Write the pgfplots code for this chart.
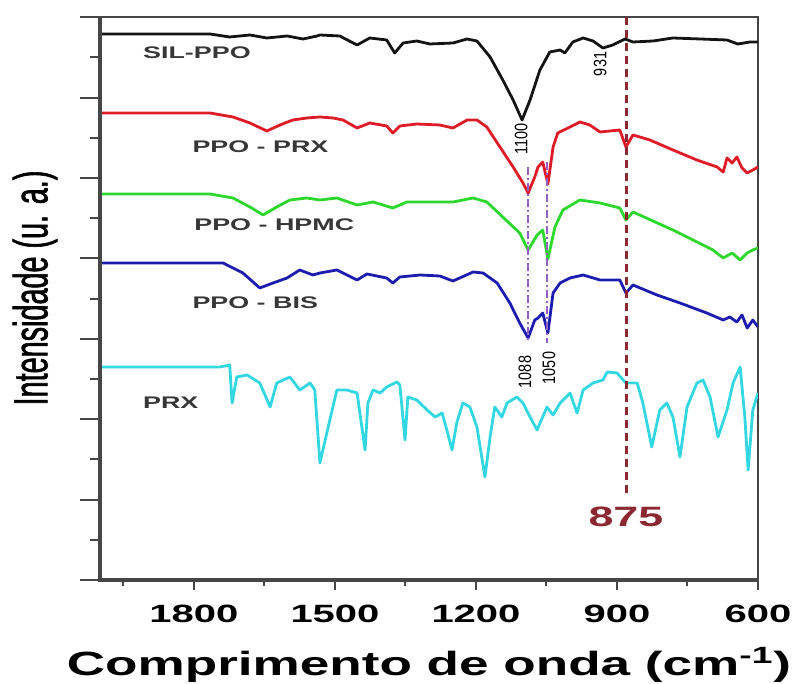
\documentclass[border=0pt]{standalone}
\usepackage{pgfplots}
\pgfplotsset{compat=1.18}
\usepackage{fontspec}
\setmainfont{Liberation Sans}
\newfontfamily\wide[FakeStretch=1.6]{Liberation Sans}
\newfontfamily\wideT[FakeStretch=1.58]{Liberation Sans}
\newfontfamily\narrowY[FakeStretch=0.6,FakeBold=1.2]{Liberation Sans}
\newfontfamily\narrowN[FakeStretch=0.8]{Liberation Sans}
\definecolor{cBlack}{RGB}{20,20,20}
\definecolor{cRed}{RGB}{222,28,40}
\definecolor{cGreen}{RGB}{45,215,45}
\definecolor{cBlue}{RGB}{28,28,175}
\definecolor{cCyan}{RGB}{50,215,225}
\definecolor{cText}{RGB}{55,55,55}
\definecolor{cDash}{RGB}{140,40,50}
\definecolor{cPurple}{RGB}{150,95,195}
\definecolor{cAxis}{RGB}{70,70,70}
\begin{document}
\begin{tikzpicture}
\path[use as bounding box] (-50pt,-52pt) rectangle (348.5pt,290pt);
\begin{axis}[
  at={(0pt,0pt)}, anchor=south west,
  scale only axis, width=329pt, height=281.5pt,
  xmin=600, xmax=2000, x dir=reverse,
  ymin=0, ymax=563,
  xtick={600,900,1200,1500,1800},
  xticklabels={600,900,1200,1500,1800},
  minor xtick={750,1050,1350,1650,1950},
  ytick={0,80.4,160.8,241.2,321.6,402,482.4,562.8},
  minor ytick={40.2,120.6,201,281.4,361.8,442.2,522.6},
  yticklabels={},
  tick align=outside,
  xtick pos=bottom, ytick pos=left,
  xtick style={/pgfplots/major tick length=5pt,/pgfplots/minor tick length=3pt,line width=1pt,cAxis},
  ytick style={/pgfplots/major tick length=10pt,/pgfplots/minor tick length=5pt,line width=1pt,cAxis},
  /pgf/number format/assume math mode=true,
  xticklabel style={font=\wide\bfseries\fontsize{12.5}{14}\selectfont, yshift=-4.5pt},
  axis line style={line width=1.3pt, cAxis},
  clip=true,
  every axis plot/.append style={line width=1.4pt, line join=round},
]
% SIL-PPO
\addplot[cBlack] coordinates {
(2000,546)(1766,546)(1724,543)(1681,545)(1645,542)(1602,544)(1568,541)(1538,544)(1532,545)
(1490,544)(1453,535)(1426,542)(1390,540)(1373,527)(1355,537)(1326,539)(1298,536)(1249,537)
(1219,541)(1198,539)(1170,523)(1143,500)(1121,480)(1102,460)(1085,480)(1064,510)(1043,528)
(1021,530)(1011,527)(994,538)(972,542)(951,539)(930,532)(909,535)(883,541)(866,538)(823,539)
(781,542)(723,541)(666,540)(643,536)(617,538)(600,538)};
% PPO - PRX
\addplot[cRed] coordinates {
(2000,467)(1766,467)(1717,463)(1681,457)(1645,449)(1617,455)(1590,460)(1560,462)(1532,463)
(1504,462)(1483,460)(1453,452)(1426,457)(1390,454)(1377,447)(1362,454)(1326,456)(1277,455)
(1249,452)(1219,460)(1198,460)(1177,453)(1149,433)(1121,413)(1100,397)(1089,387)(1075,403)
(1068,413)(1058,418)(1047,396)(1036,433)(1026,447)(1000,453)(979,458)(958,455)(936,448)
(894,450)(881,433)(866,445)(830,440)(781,430)(730,420)(687,413)(674,408)(666,422)(655,417)
(645,423)(634,412)(623,407)(611,410)(600,413)};
% PPO - HPMC
\addplot[cGreen] coordinates {
(2000,386)(1766,386)(1717,382)(1681,373)(1653,365)(1624,373)(1596,380)(1560,382)(1532,380)
(1496,382)(1453,375)(1419,378)(1377,372)(1347,378)(1298,378)(1249,378)(1206,382)(1177,378)
(1143,363)(1107,347)(1089,330)(1070,345)(1058,350)(1047,321)(1032,353)(1015,370)(979,380)
(936,377)(894,372)(881,360)(866,368)(781,350)(696,330)(674,322)(655,327)(638,320)(623,327)
(611,330)(600,332)};
% PPO - BIS
\addplot[cBlue] coordinates {
(2000,317)(1738,317)(1696,307)(1660,292)(1632,297)(1602,302)(1575,310)(1547,305)(1532,307)
(1496,310)(1453,300)(1432,306)(1390,302)(1377,297)(1362,303)(1319,305)(1277,304)(1249,299)
(1206,308)(1185,307)(1155,297)(1128,277)(1107,257)(1089,242)(1075,260)(1068,262)(1058,267)
(1047,247)(1036,287)(1021,297)(1000,302)(972,305)(936,300)(894,300)(881,287)(866,295)
(815,285)(766,277)(709,267)(674,260)(660,263)(645,258)(634,265)(623,252)(611,260)(600,253)};
% PRX
\addplot[cCyan] coordinates {
(2000,213)(1745,213)(1724,215)(1719,177)(1709,203)(1687,205)(1660,197)(1638,173)(1624,197)
(1596,203)(1575,190)(1553,197)(1543,190)(1532,117)(1511,160)(1496,190)(1475,190)(1453,187)
(1436,130)(1430,177)(1419,190)(1404,187)(1390,193)(1368,198)(1362,195)(1351,140)(1345,183)
(1326,180)(1304,170)(1287,163)(1272,167)(1262,150)(1251,130)(1241,157)(1228,177)(1213,173)
(1198,153)(1181,103)(1170,143)(1160,173)(1145,163)(1134,177)(1113,183)(1100,177)(1085,163)
(1070,150)(1049,173)(1036,165)(1021,177)(1000,187)(985,167)(972,190)(951,197)(930,200)
(921,208)(900,207)(881,197)(857,197)(845,177)(826,133)(809,170)(794,177)(781,163)(766,123)
(751,173)(730,197)(717,200)(702,183)(685,143)(666,170)(653,197)(638,213)(628,163)(621,110)
(611,170)(600,187)};
% reference lines
\draw[cDash, line width=1.4pt, dash pattern=on 4pt off 2.5pt] (axis cs:879,563) -- (axis cs:879,83);
\draw[cPurple, line width=1pt, dash pattern=on 4pt off 1.5pt on 1pt off 1.5pt] (axis cs:1090,413) -- (axis cs:1090,237);
\draw[cPurple, line width=1pt, dash pattern=on 4pt off 1.5pt on 1pt off 1.5pt] (axis cs:1049,418) -- (axis cs:1049,237);
% labels
\node[anchor=west, text=cText, font=\wide\bfseries\fontsize{8.4}{10}\selectfont, inner sep=0pt] at (axis cs:1909,527) {SIL-PPO};
\node[anchor=west, text=cText, font=\wide\bfseries\fontsize{8.4}{10}\selectfont, inner sep=0pt] at (axis cs:1804,433) {PPO - PRX};
\node[anchor=west, text=cText, font=\wide\bfseries\fontsize{8.4}{10}\selectfont, inner sep=0pt] at (axis cs:1800,355) {PPO - HPMC};
\node[anchor=west, text=cText, font=\wide\bfseries\fontsize{8.4}{10}\selectfont, inner sep=0pt] at (axis cs:1804,277) {PPO - BIS};
\node[anchor=west, text=cText, font=\wide\bfseries\fontsize{8.4}{10}\selectfont, inner sep=0pt] at (axis cs:1909,177) {PRX};
\node[rotate=90, font=\narrowN\fontsize{9}{10}\selectfont, inner sep=0pt] at (axis cs:1104,441) {1100};
\node[rotate=90, font=\narrowN\fontsize{9}{10}\selectfont, inner sep=0pt] at (axis cs:936,516) {931};
\node[rotate=90, font=\narrowN\fontsize{9}{10}\selectfont, inner sep=0pt] at (axis cs:1096,208) {1088};
\node[rotate=90, font=\narrowN\fontsize{9}{10}\selectfont, inner sep=0pt] at (axis cs:1045,212) {1050};
\node[text=cDash, font=\wide\bfseries\fontsize{14}{16}\selectfont, inner sep=0pt] at (axis cs:881,63) {875};
\end{axis}
% thicker left and bottom spines
\draw[cAxis, line width=2pt] (0pt,281.5pt) -- (0pt,0pt) -- (329pt,0pt);
% axis titles
\node[anchor=base, font=\wideT\bfseries\fontsize{16.8}{18}\selectfont, inner sep=0pt] at (164.5pt,-48pt) {Comprimento de onda (cm\textsuperscript{-1})};
\node[rotate=90, font=\narrowY\fontsize{24}{26}\selectfont, inner sep=0pt] at (-32.5pt,146pt) {Intensidade (u. a.)};
\end{tikzpicture}
\end{document}
